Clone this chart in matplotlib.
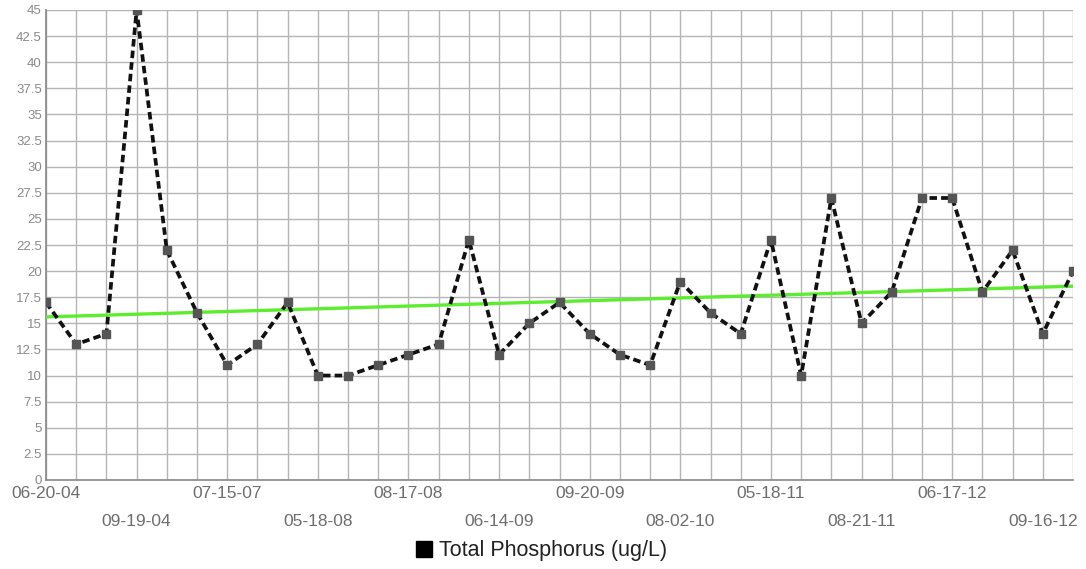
import matplotlib.pyplot as plt
from matplotlib.lines import Line2D
import numpy as np

plt.rcParams['font.family'] = ['Liberation Sans', 'DejaVu Sans']

# Total phosphorus readings (ug/L), one per sampling date
values = [17, 13, 14, 45, 22, 16, 11, 13, 17, 10, 10, 11, 12, 13, 23, 12, 15, 17,
          14, 12, 11, 19, 16, 14, 23, 10, 27, 15, 18, 27, 27, 18, 22, 14, 20]

# only every third date is labelled on the axis
date_labels = {0: '06-20-04', 3: '09-19-04', 6: '07-15-07', 9: '05-18-08',
               12: '08-17-08', 15: '06-14-09', 18: '09-20-09', 21: '08-02-10',
               24: '05-18-11', 27: '08-21-11', 30: '06-17-12', 33: '09-16-12'}

x = np.arange(len(values))

fig = plt.figure(figsize=(10.86, 5.69), dpi=100)
ax = fig.add_axes([46 / 1086, 89 / 569, 1027 / 1086, 470 / 569])

# linear trend line
slope, intercept = np.polyfit(x, values, 1)
ax.plot(x, slope * x + intercept, color='#5ced2f', lw=2.4, zorder=3)

ax.plot(x, values, color='#111111', lw=2.7, ls=(0, (2.0, 1.1)),
        marker='s', ms=6, mfc='#555555', mec='#555555', zorder=4)

ax.set_xlim(0, len(values) - 1)
ax.set_ylim(0, 45)
ax.set_yticks(np.arange(0, 45.1, 2.5))
ax.set_yticklabels(['%g' % v for v in np.arange(0, 45.1, 2.5)])

labels = []
for i in x:
    if i in date_labels:
        # alternate rows
        if (i // 3) % 2 == 0:
            labels.append(date_labels[i])
        else:
            labels.append('\n' + date_labels[i])
    else:
        labels.append('')
ax.set_xticks(x)
ax.set_xticklabels(labels)
for lab in ax.get_xticklabels():
    lab.set_linespacing(2.1)

ax.grid(True, color='#b5b5b5', lw=1)
ax.set_axisbelow(True)
ax.tick_params(axis='x', length=0, pad=4, labelsize=12.5, labelcolor='#6e6e6e')
ax.tick_params(axis='y', length=0, pad=3, labelsize=9.5, labelcolor='#8a8a8a')

for side in ['top', 'right']:
    ax.spines[side].set_visible(False)
for side in ['left', 'bottom']:
    ax.spines[side].set_color('#888888')
    ax.spines[side].set_linewidth(1.2)

handle = Line2D([], [], ls='none', marker='s', ms=12, color='black')
fig.legend([handle], ['Total Phosphorus (ug/L)'], loc='center',
           bbox_to_anchor=(0.497, 0.032), frameon=False, fontsize=15.5,
           handletextpad=0.2, handlelength=1.0, labelcolor='#222222')

fig.savefig('out.png', dpi=100)
